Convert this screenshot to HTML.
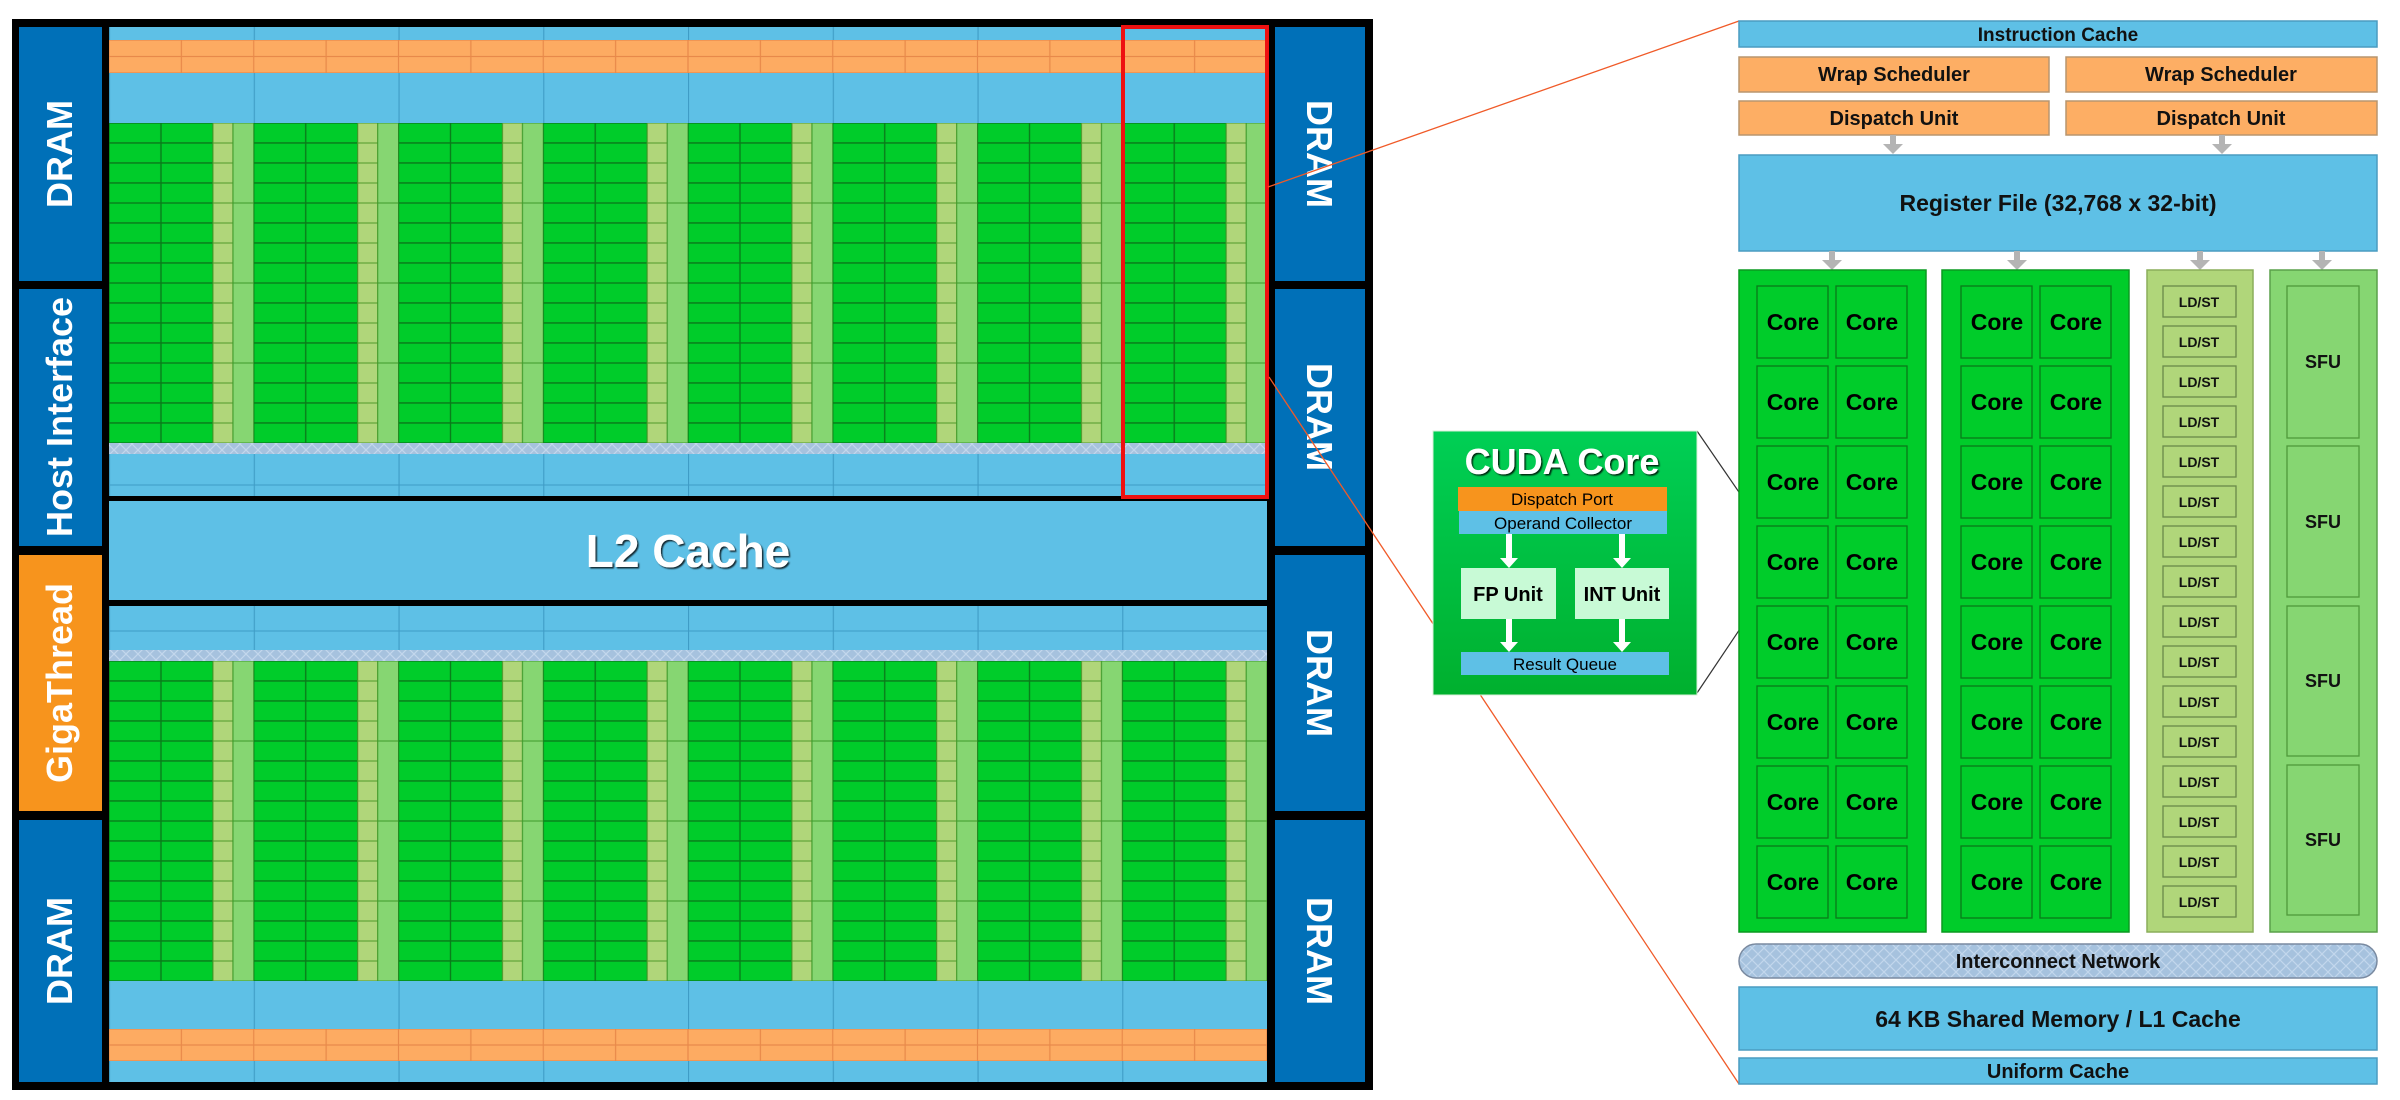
<!DOCTYPE html>
<html><head><meta charset="utf-8"><style>
html,body{margin:0;padding:0;background:#fff;width:2400px;height:1100px;overflow:hidden}
svg{display:block}
text{font-family:"Liberation Sans",sans-serif}
</style></head><body>
<svg width="2400" height="1100" viewBox="0 0 2400 1100" xmlns="http://www.w3.org/2000/svg">
<defs>
<pattern id="grn" x="109" y="123" width="144.75" height="80" patternUnits="userSpaceOnUse">
<rect x="0" y="0" width="144.75" height="80" fill="#00cc2a"/>
<g fill="#00cc2a" stroke="#0a7a1a" stroke-width="1.3">
<rect x="0" y="0" width="52" height="20"/><rect x="52" y="0" width="52" height="20"/>
<rect x="0" y="20" width="52" height="20"/><rect x="52" y="20" width="52" height="20"/>
<rect x="0" y="40" width="52" height="20"/><rect x="52" y="40" width="52" height="20"/>
<rect x="0" y="60" width="52" height="20"/><rect x="52" y="60" width="52" height="20"/>
</g>
<g fill="#b0d67a" stroke="#4f9a2a" stroke-width="1">
<rect x="104" y="0" width="20" height="20"/><rect x="104" y="20" width="20" height="20"/>
<rect x="104" y="40" width="20" height="20"/><rect x="104" y="60" width="20" height="20"/>
</g>
<rect x="124" y="0" width="20.75" height="80" fill="#86d672" stroke="#3f9a2a" stroke-width="1"/>
</pattern>
<pattern id="grn2" x="109" y="661" width="144.75" height="80" patternUnits="userSpaceOnUse">
<rect x="0" y="0" width="144.75" height="80" fill="#00cc2a"/>
<g fill="#00cc2a" stroke="#0a7a1a" stroke-width="1.3">
<rect x="0" y="0" width="52" height="20"/><rect x="52" y="0" width="52" height="20"/>
<rect x="0" y="20" width="52" height="20"/><rect x="52" y="20" width="52" height="20"/>
<rect x="0" y="40" width="52" height="20"/><rect x="52" y="40" width="52" height="20"/>
<rect x="0" y="60" width="52" height="20"/><rect x="52" y="60" width="52" height="20"/>
</g>
<g fill="#b0d67a" stroke="#4f9a2a" stroke-width="1">
<rect x="104" y="0" width="20" height="20"/><rect x="104" y="20" width="20" height="20"/>
<rect x="104" y="40" width="20" height="20"/><rect x="104" y="60" width="20" height="20"/>
</g>
<rect x="124" y="0" width="20.75" height="80" fill="#86d672" stroke="#3f9a2a" stroke-width="1"/>
</pattern>
<pattern id="org" x="109" y="40" width="72.375" height="16.5" patternUnits="userSpaceOnUse">
<rect x="0" y="0" width="72.375" height="16.5" fill="#fdab62" stroke="#e8894a" stroke-width="1.2"/>
</pattern>
<pattern id="org2" x="109" y="1029" width="72.375" height="16" patternUnits="userSpaceOnUse">
<rect x="0" y="0" width="72.375" height="16" fill="#fdab62" stroke="#e8894a" stroke-width="1.2"/>
</pattern>
<pattern id="blu" x="109" y="0" width="144.75" height="10" patternUnits="userSpaceOnUse">
<rect width="144.75" height="10" fill="#5ec0e6"/>
<line x1="0.5" y1="0" x2="0.5" y2="10" stroke="#3f9cc6" stroke-width="1.2"/>
</pattern>
<pattern id="hatch" x="0" y="0" width="12" height="12" patternUnits="userSpaceOnUse">
<rect width="12" height="12" fill="#a6c2de"/>
<path d="M0 0L12 12M12 0L0 12" stroke="#c3d7ec" stroke-width="1.2"/>
</pattern>
<linearGradient id="cg" x1="0" y1="0" x2="0" y2="1">
<stop offset="0" stop-color="#00cf55"/><stop offset="1" stop-color="#00b02e"/>
</linearGradient>
<filter id="sh" x="-10%" y="-10%" width="130%" height="130%"><feDropShadow dx="1.5" dy="1.5" stdDeviation="0.8" flood-color="#000" flood-opacity="0.8"/></filter>
</defs>

<!-- chip frame -->
<rect x="12" y="19" width="1361" height="1071" fill="#000"/>
<!-- left column -->
<rect x="19" y="27" width="83" height="254" fill="#0070b8"/>
<rect x="19" y="289" width="83" height="257" fill="#0070b8"/>
<rect x="19" y="555" width="83" height="256" fill="#f7941d"/>
<rect x="19" y="820" width="83" height="262" fill="#0070b8"/>
<!-- right column -->
<rect x="1275" y="27" width="90" height="254" fill="#0070b8"/>
<rect x="1275" y="289" width="90" height="257" fill="#0070b8"/>
<rect x="1275" y="555" width="90" height="256" fill="#0070b8"/>
<rect x="1275" y="820" width="90" height="262" fill="#0070b8"/>

<!-- main area top half -->
<rect x="109" y="27" width="1158" height="13" fill="url(#blu)"/>
<rect x="109" y="40" width="1158" height="33" fill="url(#org)"/>
<rect x="109" y="73" width="1158" height="50" fill="url(#blu)"/>
<rect x="109" y="123" width="1158" height="320" fill="url(#grn)"/>
<rect x="109" y="443" width="1158" height="11" fill="url(#hatch)"/>
<rect x="109" y="454" width="1158" height="42" fill="url(#blu)"/>
<line x1="109" y1="485" x2="1267" y2="485" stroke="#3f9cc6" stroke-width="1"/>
<!-- L2 -->
<rect x="109" y="501" width="1158" height="99" fill="#5ec0e6"/>
<text x="688" y="567" font-size="46" font-weight="bold" fill="#fff" text-anchor="middle" filter="url(#sh)">L2 Cache</text>
<!-- bottom half -->
<rect x="109" y="606" width="1158" height="44" fill="url(#blu)"/>
<line x1="109" y1="631" x2="1267" y2="631" stroke="#3f9cc6" stroke-width="1"/>
<rect x="109" y="650" width="1158" height="11" fill="url(#hatch)"/>
<rect x="109" y="661" width="1158" height="320" fill="url(#grn2)"/>
<rect x="109" y="981" width="1158" height="48" fill="url(#blu)"/>
<rect x="109" y="1029" width="1158" height="32" fill="url(#org2)"/>
<rect x="109" y="1061" width="1158" height="21" fill="url(#blu)"/>

<!-- vertical labels -->
<g font-size="36" font-weight="bold" fill="#fff" text-anchor="middle">
<text transform="translate(72,154) rotate(-90)">DRAM</text>
<text transform="translate(72,417) rotate(-90)">Host Interface</text>
<text transform="translate(72,683) rotate(-90)">GigaThread</text>
<text transform="translate(72,951) rotate(-90)">DRAM</text>
<text transform="translate(1307,154) rotate(90)">DRAM</text>
<text transform="translate(1307,417) rotate(90)">DRAM</text>
<text transform="translate(1307,683) rotate(90)">DRAM</text>
<text transform="translate(1307,951) rotate(90)">DRAM</text>
</g>

<!-- red highlight -->
<rect x="1123" y="27" width="144" height="470" fill="none" stroke="#ee1111" stroke-width="4"/>

<!-- zoom lines -->
<line x1="1268" y1="187" x2="1739" y2="21" stroke="#f05a28" stroke-width="1.3"/>
<line x1="1269" y1="377" x2="1739" y2="1084" stroke="#f05a28" stroke-width="1.3"/>
<line x1="1697" y1="431" x2="1754" y2="514" stroke="#333" stroke-width="1.2"/>
<line x1="1697" y1="693" x2="1754" y2="608" stroke="#333" stroke-width="1.2"/>

<!-- CUDA core box -->
<rect x="1433" y="431" width="264" height="264" fill="url(#cg)" stroke="#d8efd8" stroke-width="1"/>
<text x="1562" y="474" font-size="36" font-weight="bold" fill="#fff" text-anchor="middle" filter="url(#sh)">CUDA Core</text>
<rect x="1458" y="487" width="209" height="24" fill="#f7941d"/>
<text x="1562" y="505" font-size="17" fill="#000" text-anchor="middle">Dispatch Port</text>
<rect x="1459" y="511" width="208" height="23" fill="#5ec0e6"/>
<text x="1563" y="529" font-size="17" fill="#000" text-anchor="middle">Operand Collector</text>
<g fill="#fff">
<rect x="1506" y="534" width="6" height="25"/><path d="M1500 558L1518 558L1509 568Z"/>
<rect x="1619" y="534" width="6" height="25"/><path d="M1613 558L1631 558L1622 568Z"/>
<rect x="1506" y="619" width="6" height="24"/><path d="M1500 642L1518 642L1509 652Z"/>
<rect x="1619" y="619" width="6" height="24"/><path d="M1613 642L1631 642L1622 652Z"/>
</g>
<rect x="1461" y="568" width="95" height="51" fill="#c8fad6"/>
<rect x="1575" y="568" width="94" height="51" fill="#c8fad6"/>
<text x="1508" y="601" font-size="20" font-weight="bold" fill="#000" text-anchor="middle">FP Unit</text>
<text x="1622" y="601" font-size="20" font-weight="bold" fill="#000" text-anchor="middle">INT Unit</text>
<rect x="1461" y="652" width="208" height="23" fill="#5ec0e6"/>
<text x="1565" y="670" font-size="17" fill="#000" text-anchor="middle">Result Queue</text>

<!-- SM diagram -->
<g stroke="#8a8a8a" stroke-width="1.5">
<rect x="1739" y="21" width="638" height="26" fill="#5ec0e6" stroke="#4a9cc0"/>
<rect x="1739" y="57" width="310" height="35" fill="#fdae64" stroke="#b8956e"/>
<rect x="2066" y="57" width="311" height="35" fill="#fdae64" stroke="#b8956e"/>
<rect x="1739" y="101" width="310" height="34" fill="#fdae64" stroke="#b8956e"/>
<rect x="2066" y="101" width="311" height="34" fill="#fdae64" stroke="#b8956e"/>
<rect x="1739" y="155" width="638" height="96" fill="#5ec0e6" stroke="#4a9cc0"/>
</g>
<g font-weight="bold" fill="#111" text-anchor="middle">
<text x="2058" y="41" font-size="19">Instruction Cache</text>
<text x="1894" y="81" font-size="20">Wrap Scheduler</text>
<text x="2221" y="81" font-size="20">Wrap Scheduler</text>
<text x="1894" y="125" font-size="20">Dispatch Unit</text>
<text x="2221" y="125" font-size="20">Dispatch Unit</text>
<text x="2058" y="211" font-size="23">Register File (32,768 x 32-bit)</text>
</g>
<!-- gray arrows -->
<g fill="#b4b4b4">
<rect x="1890" y="135" width="6" height="10"/><path d="M1883 144L1903 144L1893 154Z"/>
<rect x="2219" y="135" width="6" height="10"/><path d="M2212 144L2232 144L2222 154Z"/>
<rect x="1829" y="251" width="6" height="10"/><path d="M1822 260L1842 260L1832 270Z"/>
<rect x="2014" y="251" width="6" height="10"/><path d="M2007 260L2027 260L2017 270Z"/>
<rect x="2197" y="251" width="6" height="10"/><path d="M2190 260L2210 260L2200 270Z"/>
<rect x="2319" y="251" width="6" height="10"/><path d="M2312 260L2332 260L2322 270Z"/>
</g>
<!-- columns -->
<rect x="1739" y="270" width="187" height="662" fill="#00cc2a" stroke="#0a9a20" stroke-width="1.5"/>
<rect x="1942" y="270" width="187" height="662" fill="#00cc2a" stroke="#0a9a20" stroke-width="1.5"/>
<rect x="2147" y="270" width="106" height="662" fill="#b0d67a" stroke="#8aae5a" stroke-width="1.5"/>
<rect x="2270" y="270" width="107" height="662" fill="#86d672" stroke="#5aa04a" stroke-width="1.5"/>
<g fill="#00cc2a" stroke="#0a7a1a" stroke-width="1.3">
<rect x="1757" y="286" width="71" height="72"/><rect x="1836" y="286" width="71" height="72"/>
<rect x="1757" y="366" width="71" height="72"/><rect x="1836" y="366" width="71" height="72"/>
<rect x="1757" y="446" width="71" height="72"/><rect x="1836" y="446" width="71" height="72"/>
<rect x="1757" y="526" width="71" height="72"/><rect x="1836" y="526" width="71" height="72"/>
<rect x="1757" y="606" width="71" height="72"/><rect x="1836" y="606" width="71" height="72"/>
<rect x="1757" y="686" width="71" height="72"/><rect x="1836" y="686" width="71" height="72"/>
<rect x="1757" y="766" width="71" height="72"/><rect x="1836" y="766" width="71" height="72"/>
<rect x="1757" y="846" width="71" height="72"/><rect x="1836" y="846" width="71" height="72"/>
<rect x="1961" y="286" width="71" height="72"/><rect x="2040" y="286" width="71" height="72"/>
<rect x="1961" y="366" width="71" height="72"/><rect x="2040" y="366" width="71" height="72"/>
<rect x="1961" y="446" width="71" height="72"/><rect x="2040" y="446" width="71" height="72"/>
<rect x="1961" y="526" width="71" height="72"/><rect x="2040" y="526" width="71" height="72"/>
<rect x="1961" y="606" width="71" height="72"/><rect x="2040" y="606" width="71" height="72"/>
<rect x="1961" y="686" width="71" height="72"/><rect x="2040" y="686" width="71" height="72"/>
<rect x="1961" y="766" width="71" height="72"/><rect x="2040" y="766" width="71" height="72"/>
<rect x="1961" y="846" width="71" height="72"/><rect x="2040" y="846" width="71" height="72"/>
</g>
<g font-size="23" font-weight="bold" fill="#000" text-anchor="middle">
<text x="1793" y="330">Core</text><text x="1872" y="330">Core</text><text x="1997" y="330">Core</text><text x="2076" y="330">Core</text>
<text x="1793" y="410">Core</text><text x="1872" y="410">Core</text><text x="1997" y="410">Core</text><text x="2076" y="410">Core</text>
<text x="1793" y="490">Core</text><text x="1872" y="490">Core</text><text x="1997" y="490">Core</text><text x="2076" y="490">Core</text>
<text x="1793" y="570">Core</text><text x="1872" y="570">Core</text><text x="1997" y="570">Core</text><text x="2076" y="570">Core</text>
<text x="1793" y="650">Core</text><text x="1872" y="650">Core</text><text x="1997" y="650">Core</text><text x="2076" y="650">Core</text>
<text x="1793" y="730">Core</text><text x="1872" y="730">Core</text><text x="1997" y="730">Core</text><text x="2076" y="730">Core</text>
<text x="1793" y="810">Core</text><text x="1872" y="810">Core</text><text x="1997" y="810">Core</text><text x="2076" y="810">Core</text>
<text x="1793" y="890">Core</text><text x="1872" y="890">Core</text><text x="1997" y="890">Core</text><text x="2076" y="890">Core</text>
</g>
<!-- LD/ST -->
<g fill="#b0d67a" stroke="#6a8a4a" stroke-width="1.3">
<rect x="2163" y="286" width="73" height="31"/><rect x="2163" y="326" width="73" height="31"/>
<rect x="2163" y="366" width="73" height="31"/><rect x="2163" y="406" width="73" height="31"/>
<rect x="2163" y="446" width="73" height="31"/><rect x="2163" y="486" width="73" height="31"/>
<rect x="2163" y="526" width="73" height="31"/><rect x="2163" y="566" width="73" height="31"/>
<rect x="2163" y="606" width="73" height="31"/><rect x="2163" y="646" width="73" height="31"/>
<rect x="2163" y="686" width="73" height="31"/><rect x="2163" y="726" width="73" height="31"/>
<rect x="2163" y="766" width="73" height="31"/><rect x="2163" y="806" width="73" height="31"/>
<rect x="2163" y="846" width="73" height="31"/><rect x="2163" y="886" width="73" height="31"/>
</g>
<g font-size="14" font-weight="bold" fill="#111" text-anchor="middle">
<text x="2199" y="307">LD/ST</text><text x="2199" y="347">LD/ST</text><text x="2199" y="387">LD/ST</text><text x="2199" y="427">LD/ST</text>
<text x="2199" y="467">LD/ST</text><text x="2199" y="507">LD/ST</text><text x="2199" y="547">LD/ST</text><text x="2199" y="587">LD/ST</text>
<text x="2199" y="627">LD/ST</text><text x="2199" y="667">LD/ST</text><text x="2199" y="707">LD/ST</text><text x="2199" y="747">LD/ST</text>
<text x="2199" y="787">LD/ST</text><text x="2199" y="827">LD/ST</text><text x="2199" y="867">LD/ST</text><text x="2199" y="907">LD/ST</text>
</g>
<!-- SFU -->
<g fill="#86d672" stroke="#4f9a3a" stroke-width="1.3">
<rect x="2287" y="286" width="72" height="152"/>
<rect x="2287" y="446" width="72" height="151"/>
<rect x="2287" y="606" width="72" height="150"/>
<rect x="2287" y="765" width="72" height="150"/>
</g>
<g font-size="18" font-weight="bold" fill="#111" text-anchor="middle">
<text x="2323" y="368">SFU</text><text x="2323" y="528">SFU</text><text x="2323" y="687">SFU</text><text x="2323" y="846">SFU</text>
</g>
<!-- bottom -->
<rect x="1739" y="944" width="638" height="34" rx="17" fill="url(#hatch)" stroke="#7a8aa0" stroke-width="1.5"/>
<text x="2058" y="968" font-size="20" font-weight="bold" fill="#111" text-anchor="middle">Interconnect Network</text>
<rect x="1739" y="987" width="638" height="63" fill="#5ec0e6" stroke="#4a9cc0" stroke-width="1.5"/>
<text x="2058" y="1027" font-size="23" font-weight="bold" fill="#111" text-anchor="middle">64 KB Shared Memory / L1 Cache</text>
<rect x="1739" y="1058" width="638" height="26" fill="#5ec0e6" stroke="#4a9cc0" stroke-width="1.5"/>
<text x="2058" y="1078" font-size="20" font-weight="bold" fill="#111" text-anchor="middle">Uniform Cache</text>
</svg>
</body></html>
